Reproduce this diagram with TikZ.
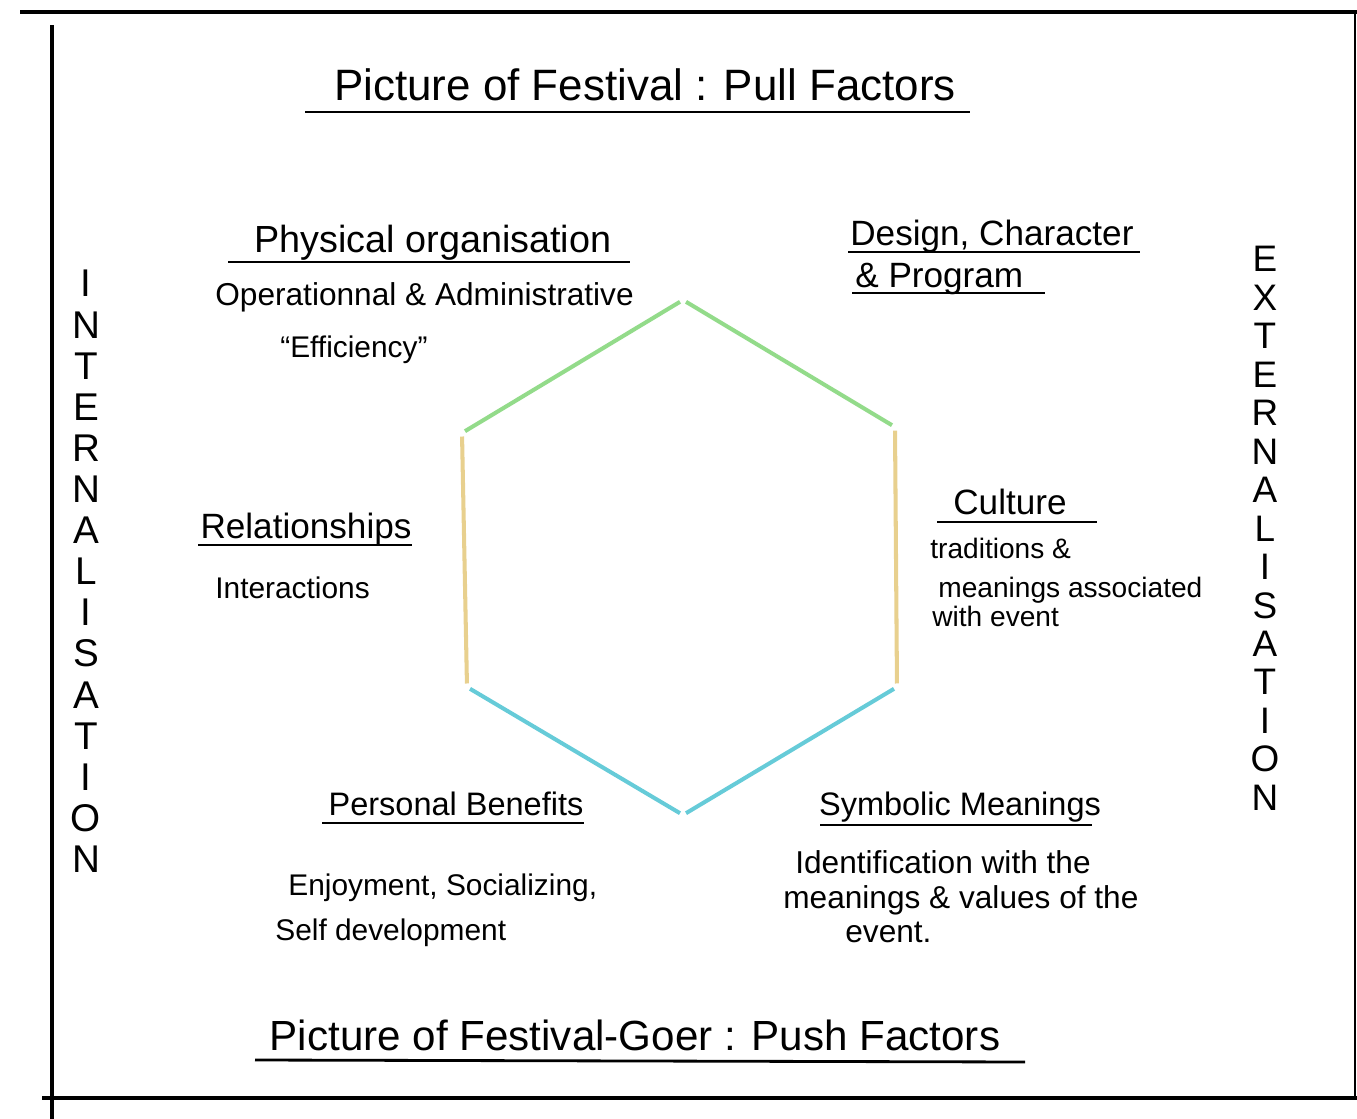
\documentclass[tikz,border=0pt]{standalone}
\usepackage{fontspec}
\setmainfont{Liberation Sans}
\usetikzlibrary{positioning}

\definecolor{hexgreen}{HTML}{93DB8A}
\definecolor{hexsand}{HTML}{E8D08E}
\definecolor{hexcyan}{HTML}{66CBD8}

\tikzset{
  title/.style={font=\fontsize{25}{29}\selectfont, anchor=base, inner sep=0pt},
  heading/.style={font=\fontsize{20}{24}\selectfont, anchor=base, inner sep=0pt},
  body/.style={font=\fontsize{17}{20}\selectfont, anchor=base west, inner sep=0pt},
  side/.style={align=center, inner sep=0pt, anchor=north},
  rulerline/.style={line width=1.6pt},
  frameline/.style={line width=2pt},
  hexside/.style={line width=2.3pt, shorten <=2pt, shorten >=2pt}
}

\begin{document}
\begin{tikzpicture}[x=0.02cm, y=-0.02cm]
  \useasboundingbox (0,0) rectangle (1357,1119);

  % frame
  \draw[frameline, line width=2.4pt] (20,12) -- (1357,12);
  \draw[frameline] (52,25) -- (52,1119);
  \draw[frameline, line width=2.4pt] (42,1098) -- (1357,1098);
  \draw[frameline, line width=1.2pt] (1355,12) -- (1355,1098);

  % titles
  \node[title] (pull) at (645,100) {Picture of Festival : Pull Factors};
  \draw[rulerline] (305,112) -- (970,112);
  \node[title, font=\fontsize{24}{28}\selectfont] (push) at (635,1050) {Picture of Festival-Goer : Push Factors};
  \draw[rulerline] (255,1060) -- (1025,1062);

  % side labels
  \node[side, font=\fontsize{22}{23.4}\selectfont] (internal) at (86,270)
    {I\\N\\T\\E\\R\\N\\A\\L\\I\\S\\A\\T\\I\\O\\N};
  \node[side, font=\fontsize{21}{21.9}\selectfont] (external) at (1265,246)
    {E\\X\\T\\E\\R\\N\\A\\L\\I\\S\\A\\T\\I\\O\\N};

  % hexagon
  \coordinate (top) at (683,300);
  \coordinate (ul) at (462,433);
  \coordinate (ur) at (895,427);
  \coordinate (ll) at (467,687);
  \coordinate (lr) at (897,687);
  \coordinate (bot) at (683,815);
  \draw[hexside, hexgreen] (ul) -- (top);
  \draw[hexside, hexgreen] (top) -- (ur);
  \draw[hexside, hexsand] (ul) -- (ll);
  \draw[hexside, hexsand] (ur) -- (lr);
  \draw[hexside, hexcyan] (ll) -- (bot);
  \draw[hexside, hexcyan] (bot) -- (lr);

  % physical organisation
  \node[heading, font=\fontsize{21.5}{25}\selectfont] (physical) at (433,252) {Physical organisation};
  \draw[rulerline] (228,262) -- (630,262);
  \node[body, font=\fontsize{18}{21}\selectfont] (operational) at (215,305) {Operationnal \& Administrative};
  \node[body] (efficiency) at (280,357) {“Efficiency”};

  % design
  \node[heading, anchor=base west] (design) at (850,245) {Design, Character};
  \draw[rulerline] (848,252) -- (1140,252);
  \node[heading, anchor=base west] (program) at (855,287) {\& Program};
  \draw[rulerline] (852,293) -- (1045,293);

  % relationships
  \node[heading] (relations) at (306,538) {Relationships};
  \draw[rulerline] (198,545) -- (412,545);
  \node[body] (interact) at (215,598) {Interactions};

  % culture
  \node[heading] (culture) at (1010,514) {Culture};
  \draw[rulerline] (937,522) -- (1097,522);
  \node[body, font=\fontsize{16}{19}\selectfont] (trad) at (930,558) {traditions \&};
  \node[body, font=\fontsize{16}{19}\selectfont] (meanassoc) at (938,597) {meanings associated};
  \node[body, font=\fontsize{16}{19}\selectfont] (withevent) at (932,626) {with event};

  % personal benefits
  \node[heading, font=\fontsize{18.5}{22}\selectfont] (personal) at (456,815) {Personal Benefits};
  \draw[rulerline] (322,823) -- (584,823);
  \node[body] (enjoy) at (288,895) {Enjoyment, Socializing,};
  \node[body] (selfdev) at (275,940) {Self development};

  % symbolic meanings
  \node[heading, font=\fontsize{18.5}{22}\selectfont] (symbolic) at (960,815) {Symbolic Meanings};
  \draw[rulerline] (820,825) -- (1092,825);
  \node[body, font=\fontsize{18}{21}\selectfont] (ident) at (795,873) {Identification with the};
  \node[body, font=\fontsize{18}{21}\selectfont] (values) at (783,908) {meanings \& values of the};
  \node[body, font=\fontsize{18}{21}\selectfont] (event) at (845,942) {event.};
\end{tikzpicture}
\end{document}
